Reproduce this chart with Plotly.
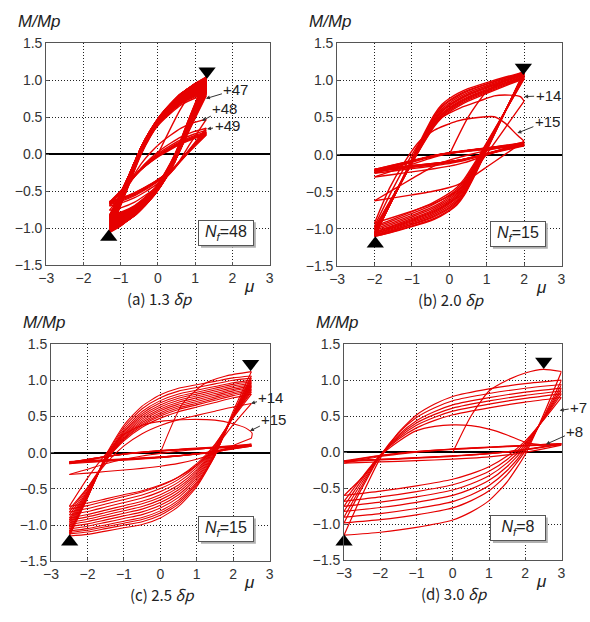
import plotly.graph_objects as go

W, H = 590, 622
RED = "#e60000"

# ---------------- data ----------------
# normalised branch shape templates (u along displacement, v along moment)
tmpl_a_u = [0, 0.1, 0.192, 0.26, 0.327, 0.42, 0.52, 0.63, 0.74, 0.87, 1.0]
tmpl_a_v = [0, 0.15, 0.29, 0.40, 0.5, 0.61, 0.71, 0.80, 0.88, 0.95, 1.0]
tmpl_b_u = [0, 0.125, 0.25, 0.33, 0.4, 0.45, 0.5, 0.56, 0.625, 0.75, 0.875, 1.0]
tmpl_b_v = [0, 0.24, 0.479, 0.63, 0.75, 0.81, 0.846, 0.878, 0.905, 0.94, 0.972, 1.0]
tmpl_c_u = [0, 0.1, 0.2, 0.3, 0.4, 0.5, 0.6, 0.7, 0.8, 0.9, 1.0]
tmpl_c_v = [0, 0.24, 0.51, 0.70, 0.82, 0.89, 0.93, 0.95, 0.97, 0.99, 1.0]
tmpl_d_u = [0, 0.083, 0.167, 0.25, 0.333, 0.417, 0.5, 0.667, 0.833, 1.0]
tmpl_d_v = [0, 0.264, 0.507, 0.674, 0.789, 0.859, 0.907, 0.952, 0.982, 1.0]

# amplitudes
mu_amp = [1.3, 2.0, 2.5, 3.0]

# virgin curves
virgin_a_mu = [0, 0.6, 1.0, 1.3]
virgin_a_m = [0, 0.6, 0.9, 1.05]
virgin_b_mu = [0, 0.5, 1.0, 1.5, 2.0]
virgin_b_m = [0, 0.5, 0.85, 1.0, 1.12]
virgin_c_mu = [0, 0.6, 1.2, 1.8, 2.5]
virgin_c_m = [0, 0.67, 0.95, 1.06, 1.12]
virgin_d_mu = [0, 0.5, 1.0, 1.5, 2.0, 2.5, 3.0]
virgin_d_m = [0, 0.5, 0.85, 1.0, 1.1, 1.15, 1.12]

# per-cycle peak moments (positive peak, magnitude of negative peak) and pinching
pos_a = [1.05, 1.04, 1.04, 1.03, 1.03, 1.02, 1.02, 1.01, 1.01, 1.00,
         1.00, 0.99, 0.99, 0.98, 0.98, 0.97, 0.97, 0.96, 0.96, 0.95,
         0.95, 0.94, 0.94, 0.93, 0.93, 0.92, 0.92, 0.91, 0.91, 0.90,
         0.90, 0.89, 0.89, 0.88, 0.88, 0.87, 0.87, 0.86, 0.86, 0.85,
         0.85, 0.84, 0.84, 0.83, 0.82, 0.81, 0.79,
         0.47, 0.35, 0.32, 0.30, 0.29, 0.28, 0.27, 0.26]
neg_a = [1.06, 1.05, 1.05, 1.04, 1.04, 1.03, 1.03, 1.02, 1.02, 1.01,
         1.01, 1.00, 1.00, 0.99, 0.99, 0.98, 0.98, 0.97, 0.97, 0.96,
         0.96, 0.95, 0.95, 0.94, 0.94, 0.93, 0.93, 0.92, 0.92, 0.91,
         0.91, 0.90, 0.90, 0.89, 0.89, 0.88, 0.88, 0.87, 0.87, 0.86,
         0.86, 0.85, 0.85, 0.84, 0.84, 0.83, 0.82,
         0.76, 0.70, 0.68, 0.67, 0.66, 0.65, 0.65, 0.64]
pinch_a = [0.00, -0.02, -0.04, -0.06, -0.08, -0.10, -0.12, -0.14, -0.16, -0.18,
           -0.20, -0.22, -0.24, -0.26, -0.28, -0.30, -0.30, -0.30, -0.30, -0.30,
           -0.30, -0.30, -0.30, -0.30, -0.30, -0.30, -0.30, -0.30, -0.30, -0.30,
           -0.30, -0.30, -0.30, -0.30, -0.30, -0.30, -0.30, -0.30, -0.30, -0.30,
           -0.30, -0.30, -0.30, -0.30, -0.30, -0.30, -0.30,
           -0.2, -0.1, 0.0, 0.05, 0.1, 0.1, 0.1, 0.1]

pos_b = [1.12, 1.11, 1.10, 1.10, 1.09, 1.08, 1.08, 1.07, 1.06, 1.05, 1.04, 1.03, 1.02,
         0.72, 0.18, 0.17, 0.16, 0.15, 0.15, 0.14, 0.14, 0.13, 0.13, 0.13, 0.12]
neg_b = [1.10, 1.10, 1.09, 1.09, 1.08, 1.07, 1.06, 1.05, 1.04, 1.02, 1.00, 0.98, 0.96,
         0.92, 0.62, 0.30, 0.25, 0.23, 0.22, 0.22, 0.21, 0.21, 0.20, 0.20, 0.20]
pinch_b = [0, 0.02, 0.04, 0.06, 0.08, 0.10, 0.11, 0.12, 0.14, 0.15, 0.16, 0.18, 0.20,
           0.20, 0.20, 0.45, 0.48, 0.5, 0.5, 0.5, 0.5, 0.5, 0.5, 0.5, 0.5]

pos_c = [1.12, 1.06, 1.03, 1.00, 0.98, 0.96, 0.94, 0.92, 0.90, 0.88, 0.86, 0.84, 0.81,
         0.68, 0.20, 0.12, 0.11, 0.10, 0.10, 0.09, 0.09]
neg_c = [1.15, 1.12, 1.10, 1.08, 1.05, 1.02, 0.99, 0.96, 0.93, 0.90, 0.86, 0.82, 0.78,
         0.74, 0.30, 0.15, 0.14, 0.13, 0.13, 0.13, 0.12]
pinch_c = [0, 0.02, 0.04, 0.06, 0.08, 0.10, 0.12, 0.14, 0.16, 0.18, 0.20, 0.22, 0.24,
           0.25, 0.30, 0.5, 0.5, 0.5, 0.5, 0.5, 0.5]

pos_d = [1.12, 1.00, 0.94, 0.89, 0.85, 0.81, 0.76, 0.10, 0.12, 0.12, 0.11]
neg_d = [1.15, 0.98, 0.90, 0.82, 0.75, 0.68, 0.60, 0.15, 0.13, 0.12, 0.12]
pinch_d = [0, 0.03, 0.06, 0.09, 0.12, 0.15, 0.18, 0.30, 0.5, 0.5, 0.5]

# fracture cycles (loading branches read point by point)
b_up14_mu = [-2.0, -1.5, -1.0, -0.6, -0.2, 0.3, 0.8, 1.2, 1.6, 1.9, 2.0]
b_up14_m = [-0.96, -0.45, 0.0, 0.3, 0.5, 0.63, 0.72, 0.79, 0.80, 0.78, 0.72]
b_up15_mu = [-2.0, -1.6, -1.2, -0.8, -0.4, 0.2, 0.6, 1.2, 1.5, 1.8, 2.0]
b_up15_m = [-0.92, -0.45, -0.1, 0.18, 0.33, 0.45, 0.49, 0.51, 0.42, 0.27, 0.18]
c_up15_mu = [-2.5, -2.0, -1.5, -1.0, -0.5, 0.1, 0.8, 1.5, 2.0, 2.35, 2.52, 2.5]
c_up15_m = [-0.74, -0.35, -0.02, 0.25, 0.38, 0.44, 0.46, 0.45, 0.40, 0.34, 0.27, 0.20]
d_up8_mu = [-3.0, -2.5, -2.0, -1.5, -1.0, -0.5, 0.0, 0.5, 1.0, 1.5, 2.0, 2.5, 3.0]
d_up8_m = [-0.60, -0.35, -0.05, 0.15, 0.30, 0.36, 0.38, 0.37, 0.32, 0.24, 0.14, 0.10, 0.10]

captions = ["(a) 1.3 <i>δp</i>", "(b) 2.0 <i>δp</i>", "(c) 2.5 <i>δp</i>", "(d) 3.0 <i>δp</i>"]
nf_labels = ["48", "15", "15", "8"]
line_widths = [1.4, 1.4, 1.1, 1.2]

# ---------------- layout geometry (pixels) ----------------
boxes = [(39, 267, 36, 264), (336, 565, 36, 265), (44, 267, 345, 568), (343, 565, 345, 567)]


def px(x):
    return x / W


def py(y):
    return 1 - y / H


def build(mu_a, tu, tv, vmu, vm, pos, neg, pinch, specials):
    xs, ys = [], []

    def add(sx, sy):
        xs.extend(sx)
        ys.extend(sy)
        xs.append(None)
        ys.append(None)

    add(vmu, vm)
    for i in range(len(pos)):
        p = pinch[i]
        veff = [min(1.0, (1 - p) * v + p * u) for u, v in zip(tu, tv)]
        if i > 0:
            if i in specials:
                add(*specials[i])
            else:
                m0 = -neg[i - 1]
                add([-mu_a + 2 * mu_a * u for u in tu],
                    [m0 + (pos[i] - m0) * v for v in veff])
        add([mu_a - 2 * mu_a * u for u in tu],
            [pos[i] - (pos[i] + neg[i]) * v for v in veff])
    return xs, ys


loops = [
    build(mu_amp[0], tmpl_a_u, tmpl_a_v, virgin_a_mu, virgin_a_m, pos_a, neg_a, pinch_a, {}),
    build(mu_amp[1], tmpl_b_u, tmpl_b_v, virgin_b_mu, virgin_b_m, pos_b, neg_b, pinch_b,
          {13: (b_up14_mu, b_up14_m), 14: (b_up15_mu, b_up15_m)}),
    build(mu_amp[2], tmpl_c_u, tmpl_c_v, virgin_c_mu, virgin_c_m, pos_c, neg_c, pinch_c,
          {14: (c_up15_mu, c_up15_m)}),
    build(mu_amp[3], tmpl_d_u, tmpl_d_v, virgin_d_mu, virgin_d_m, pos_d, neg_d, pinch_d,
          {7: (d_up8_mu, d_up8_m)}),
]

tri_down = [(1.32, 1.12), (1.98, 1.17), (2.48, 1.23), (2.51, 1.26)]
tri_up = [(-1.32, -1.12), (-1.98, -1.2), (-2.49, -1.23), (-3.0, -1.24)]

# arrow labels: (text, tip mu, tip M, ax, ay)
arrow_labels = [
    [("+47", 1.29, 0.75, 30, -9), ("+48", 1.18, 0.45, 23, -12), ("+49", 1.32, 0.34, 20, -3)],
    [("+14", 2.0, 0.78, 24, -1), ("+15", 1.82, 0.29, 30, -12)],
    [("+14", 2.49, 0.68, 20, -6), ("+15", 2.46, 0.30, 24, -12)],
    [("+7", 2.95, 0.58, 19, -3), ("+8", 2.57, 0.11, 29, -13)],
]

fig = go.Figure()
annotations = []
shapes = []
FONT = "Liberation Sans, Arial, sans-serif"

for k in range(4):
    n = "" if k == 0 else str(k + 1)
    xa, ya = "x" + n, "y" + n
    xs, ys = loops[k]
    fig.add_trace(go.Scatter(x=xs, y=ys, mode="lines", xaxis=xa, yaxis=ya,
                             line=dict(color=RED, width=line_widths[k], shape="spline", smoothing=0.6),
                             connectgaps=False, hoverinfo="skip", showlegend=False))
    fig.add_trace(go.Scatter(x=[tri_down[k][0]], y=[tri_down[k][1]], mode="markers",
                             xaxis=xa, yaxis=ya, cliponaxis=False,
                             marker=dict(symbol="triangle-down", size=15, color="black"),
                             hoverinfo="skip", showlegend=False))
    fig.add_trace(go.Scatter(x=[tri_up[k][0]], y=[tri_up[k][1]], mode="markers",
                             xaxis=xa, yaxis=ya, cliponaxis=False,
                             marker=dict(symbol="triangle-up", size=15, color="black"),
                             hoverinfo="skip", showlegend=False))
    x0, x1, y0, y1 = boxes[k]
    axis_common = dict(showgrid=True, gridcolor="#222", griddash="1px,2px", gridwidth=1,
                       showline=True, mirror=True, linecolor="#555", linewidth=1,
                       ticks="inside", ticklen=3, tickcolor="#555",
                       tickfont=dict(family=FONT, size=14, color="#333"), fixedrange=True)
    fig.update_layout(**{
        ("xaxis" + n): dict(domain=[px(x0), px(x1)], range=[-3, 3],
                            tickvals=[-3, -2, -1, 0, 1, 2, 3], zeroline=False,
                            anchor=ya, **axis_common),
        ("yaxis" + n): dict(domain=[py(y1), py(y0)], range=[-1.5, 1.5],
                            tickvals=[-1.5, -1.0, -0.5, 0.0, 0.5, 1.0, 1.5], tickformat=".1f",
                            zeroline=True, zerolinecolor="black", zerolinewidth=1.5,
                            anchor=xa, **axis_common),
    })
    # axis titles
    annotations.append(dict(text="<i>M/Mp</i>", x=px(x0 - 7), y=py(y0 - 22), xref="paper", yref="paper",
                            xanchor="center", yanchor="middle",
                            showarrow=False, font=dict(family=FONT, size=17, color="#222")))
    annotations.append(dict(text="<i>μ</i>", x=px(x1 - 20), y=py(y1 + 22), xref="paper", yref="paper",
                            xanchor="center", yanchor="middle",
                            showarrow=False, font=dict(family=FONT, size=17, color="#222")))
    # caption
    annotations.append(dict(text=captions[k], x=px((x0 + x1) / 2 + 2), y=py(y1 + 34),
                            xref="paper", yref="paper", showarrow=False,
                            xanchor="center", yanchor="middle",
                            font=dict(family="Noto Sans CJK JP, sans-serif", size=15, color="#222")))
    # N_f box with shadow
    bx, by = x1 - 44, y1 - 33
    shapes.append(dict(type="rect", xref="paper", yref="paper",
                       x0=px(bx - 28 + 2), x1=px(bx + 28 + 2), y0=py(by + 13 + 2), y1=py(by - 13 + 2),
                       fillcolor="#b0b0b0", line=dict(width=0), layer="above"))
    annotations.append(dict(text="<i>N</i><sub><i>f</i></sub>=" + nf_labels[k],
                            x=px(bx), y=py(by), xref="paper", yref="paper", showarrow=False,
                            xanchor="center", yanchor="middle",
                            width=50, height=20, borderpad=2, bordercolor="#555", borderwidth=1,
                            bgcolor="white", font=dict(family=FONT, size=16, color="#222")))
    for (t, mx, my, ax, ay) in arrow_labels[k]:
        annotations.append(dict(text=t, x=mx, y=my, xref=xa, yref=ya, ax=ax, ay=ay,
                                showarrow=True, arrowhead=2, arrowsize=0.8, arrowwidth=1,
                                arrowcolor="#333", standoff=0,
                                font=dict(family=FONT, size=15, color="#222")))

fig.update_layout(width=W, height=H, margin=dict(l=0, r=0, t=0, b=0),
                  paper_bgcolor="white", plot_bgcolor="white",
                  annotations=annotations, shapes=shapes, showlegend=False)

fig.write_html("out.html")
